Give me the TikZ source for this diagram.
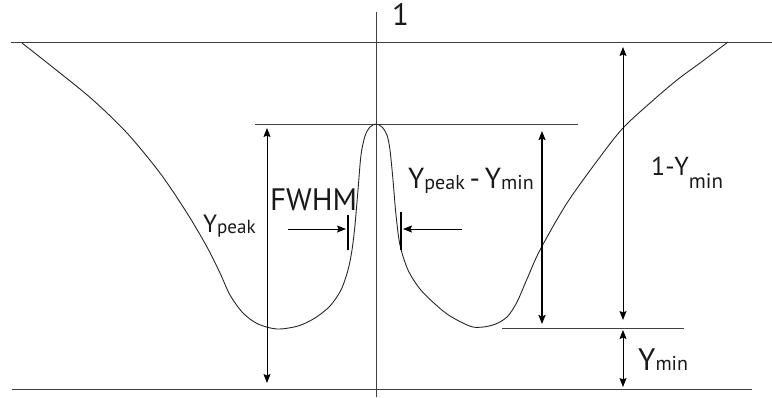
\documentclass[tikz,border=0pt]{standalone}
\usepackage{fontspec}
\setmainfont{PT Sans}
\usetikzlibrary{arrows.meta}
\newcommand\fsz[1]{\fontsize{#1pt}{#1pt}\selectfont}
\begin{document}
\begin{tikzpicture}[x=1pt,y=-1pt,
  ln/.style={draw=black!75, line width=0.9pt},
  curve/.style={draw=black!85, line width=0.9pt},
  dim/.style={draw=black, line width=0.9pt, {Stealth[length=9pt,width=7pt,inset=1.5pt]}-{Stealth[length=9pt,width=7pt,inset=1.5pt]}},
  onearrow/.style={draw=black, line width=0.9pt, -{Stealth[length=9pt,width=7pt,inset=1.5pt]}},
  tickbar/.style={draw=black, line width=2pt},
  lbl/.style={anchor=base west, inner sep=0pt, text=black!90}
]
\useasboundingbox (0,0) rectangle (772,397);
% reference lines
\coordinate (topL) at (11,42);   \coordinate (topR) at (772,42);
\coordinate (botL) at (12,389);  \coordinate (botR) at (752,389);
\coordinate (pkL) at (255,124);  \coordinate (pkR) at (578,124);
\coordinate (mnL) at (502,328);  \coordinate (mnR) at (684,328);
\coordinate (axT) at (376,12);   \coordinate (axB) at (376,397);
\draw[ln] (topL) -- (topR);
\draw[ln] (botL) -- (botR);
\draw[ln] (pkL) -- (pkR);
\draw[ln] (mnL) -- (mnR);
\draw[ln] (axT) -- (axB);
% curve
\draw[curve] plot[smooth, tension=0.5] coordinates {
(22,43) (60,73) (93,100) (127,133) (160,173) (187,213) (207,247) (220,273) (230,295) (243,313) (258,324) (277,329) (298,326) (315,318) (330,306) (341,290) (348,270) (352,250) (355,225) (358,190) (361,155) (365,136) (370,127) (376,124) (382,127) (387,135) (390,150) (393,180) (396,215) (400,245) (408,270) (420,289) (435,304) (450,316) (473,327) (493,325) (507,317) (517,302) (527,279) (540,250) (567,203) (600,157) (623,128) (650,103) (677,80) (700,63) (728,42)};
% dimension arrows
\coordinate (ypT) at (267,128); \coordinate (ypB) at (267,383);
\coordinate (dT) at (542,131);  \coordinate (dB) at (542,324);
\coordinate (omT) at (623,47);  \coordinate (omB) at (623,320);
\coordinate (ymT) at (623,330); \coordinate (ymB) at (623,387);
\draw[dim] (ypT) -- (ypB);
\draw[dim, line width=1.8pt] (dT) -- (dB);
\draw[dim] (omT) -- (omB);
\draw[dim] (ymT) -- (ymB);
% FWHM markers and arrows
\coordinate (mLT) at (348,215); \coordinate (mLB) at (348,250);
\coordinate (mRT) at (401,212); \coordinate (mRB) at (401,250);
\draw[tickbar] (mLT) -- (mLB);
\draw[tickbar] (mRT) -- (mRB);
\coordinate (aLs) at (288,229); \coordinate (aLe) at (346,229);
\coordinate (aRs) at (462,229); \coordinate (aRe) at (403,229);
\draw[onearrow] (aLs) -- (aLe);
\draw[onearrow] (aRs) -- (aRe);
% labels
\node[lbl] (one) at (392,25) {\fsz{31}1};
\node[lbl] (fwhm) at (270,210) {\fsz{31}FWHM};
\node[lbl] (ypeak) at (203,232) {\fsz{25}Y\raisebox{-1pt}{\fsz{19}peak}};
\node[lbl] (diff) at (408,188) {\fsz{29}Y\raisebox{-1pt}{\fsz{20}peak}\,-\,Y\raisebox{-1pt}{\fsz{20}min}};
\node[lbl] (onemin) at (651,175) {\fsz{26}1-Y\raisebox{-13pt}{\fsz{21}min}};
\node[lbl] (ymin) at (638,370) {\fsz{31}Y\raisebox{0pt}{\fsz{20}min}};
\end{tikzpicture}
\end{document}
